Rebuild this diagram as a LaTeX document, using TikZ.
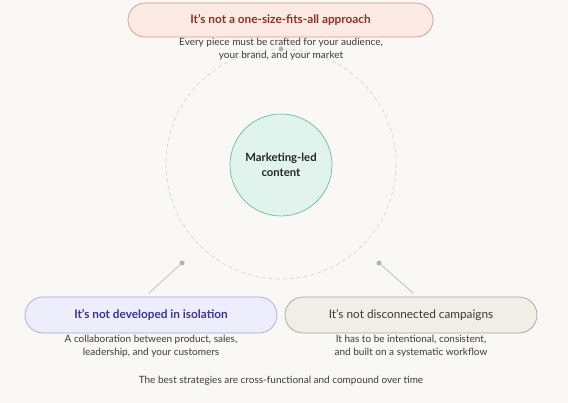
\documentclass[tikz,border=0pt]{standalone}
\usepackage{fontspec}
\setmainfont{Lato}
\definecolor{bg}{HTML}{F9F8F5}
\definecolor{ringc}{HTML}{D6D4CF}
\definecolor{dotc}{HTML}{B5B3AE}
\definecolor{mintf}{HTML}{E0F3EC}
\definecolor{mintd}{HTML}{6DB9A2}
\definecolor{redf}{HTML}{FBEAE4}
\definecolor{redd}{HTML}{D49583}
\definecolor{redt}{HTML}{8A3520}
\definecolor{purf}{HTML}{EEEDFC}
\definecolor{purd}{HTML}{A9A3EA}
\definecolor{purt}{HTML}{3E3494}
\definecolor{grf}{HTML}{F0EEE7}
\definecolor{grd}{HTML}{A7A39A}
\definecolor{grt}{HTML}{3A3935}
\definecolor{subt}{HTML}{3C3B38}
\tikzset{
  pill/.style={rounded corners=18pt, minimum width=252pt, minimum height=36pt, line width=0.7pt, font=\fontsize{11.8}{13}\selectfont\bfseries, inner sep=0pt},
  sub/.style={align=center, font=\fontsize{10}{12.8}\selectfont, text=subt, inner sep=0pt},
  dotn/.style={circle, fill=dotc, minimum size=5pt, inner sep=0pt},
  conn/.style={draw=ringc!90!black, line width=0.8pt}
}
\begin{document}
\begin{tikzpicture}[x=1pt,y=-1pt]
\fill[bg] (0,0) rectangle (568,403);
\useasboundingbox (0,0) rectangle (568,403);
\draw[ringc, dashed, dash pattern=on 4pt off 3pt, line width=0.7pt] (281,164) circle (115);
\node[circle, fill=mintf, draw=mintd, line width=0.7pt, minimum size=102pt, align=center, font=\fontsize{11.3}{14.5}\selectfont\bfseries, text=black!85] (core) at (281,165) {Marketing-led\\content};
\node[dotn] (d1) at (281,49) {};
\node[dotn] (d2) at (182,263) {};
\node[dotn] (d3) at (379,263) {};
\node[pill, fill=redf, draw=redd, text=redt, minimum width=305pt, minimum height=34pt, rounded corners=17pt] (top) at (280.5,20) {It's not a one-size-fits-all approach};
\node[sub] (topsub) at (281,49) {Every piece must be crafted for your audience,\\your brand, and your market};
\node[pill, fill=purf, draw=purd, text=purt] (left) at (151,315) {It's not developed in isolation};
\node[pill, fill=grf, draw=grd, text=grt, font=\fontsize{11.8}{13}\selectfont] (right) at (411,315) {It's not disconnected campaigns};
\coordinate (l1) at (149,293);
\coordinate (r1) at (413,293);
\draw[conn] (d2) -- (l1);
\draw[conn] (d3) -- (r1);
\node[sub] (leftsub) at (151,346.5) {A collaboration between product, sales,\\leadership, and your customers};
\node[sub] (rightsub) at (411,346.5) {It has to be intentional, consistent,\\and built on a systematic workflow};
\node[sub] (foot) at (281,381) {The best strategies are cross-functional and compound over time};
\end{tikzpicture}
\end{document}
